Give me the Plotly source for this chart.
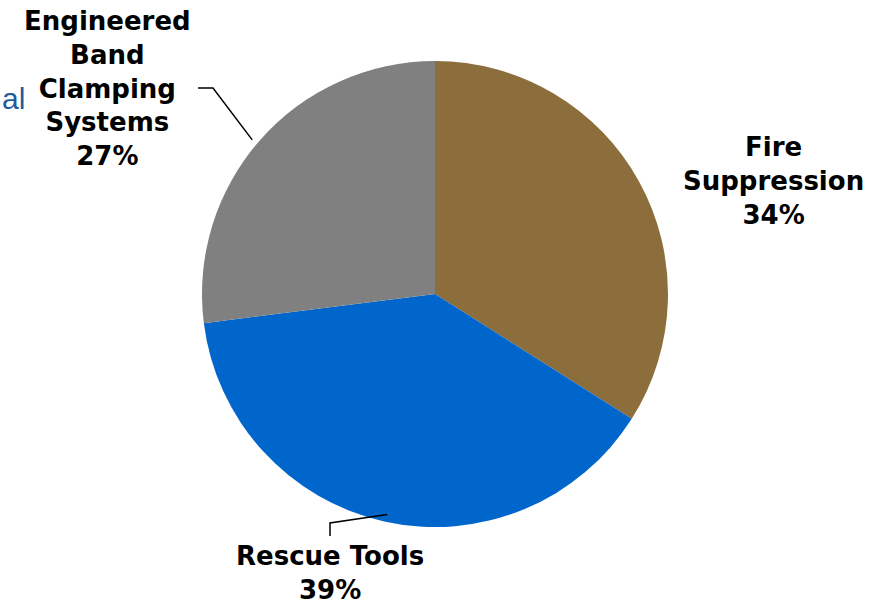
import math
import plotly.graph_objects as go

categories = ["Fire Suppression", "Rescue Tools", "Engineered Band Clamping Systems"]
values = [34, 39, 27]
colors = ["#8C6E3C", "#0066CC", "#808080"]
label_texts = ["Fire<br>Suppression<br>34%", "Rescue Tools<br>39%",
               "Engineered<br>Band<br>Clamping<br>Systems<br>27%"]

W, H = 888, 607
CX, CY, R = 435, 294, 233  # pixels, for layout


def px(x):
    return x / W


def py(y):
    return 1 - y / H


fig = go.Figure()
fig.add_trace(go.Pie(
    labels=categories, values=values, sort=False, direction="clockwise",
    rotation=0, textinfo="none", hoverinfo="label+percent",
    marker=dict(colors=colors, line=dict(width=0)),
    domain=dict(x=[px(CX - R), px(CX + R)], y=[py(CY + R), py(CY - R)]),
    showlegend=False,
))

# edge points at slice mid-angles (computed from data)
total = sum(values)
cum = 0
edge = []
for v in values:
    mid = (cum + v / 2) / total * 2 * math.pi
    cum += v
    edge.append((CX + R * math.sin(mid), CY - R * math.cos(mid)))

label_pos = [(773, 181), (330, 573), (107, 89)]
font = dict(family="DejaVu Sans", size=26, color="black")
for t, (x, y) in zip(label_texts, label_pos):
    fig.add_annotation(x=px(x), y=py(y), xref="paper", yref="paper",
                       text="<b>" + t + "</b>", showarrow=False, font=font,
                       xanchor="center", yanchor="middle", align="center")

# leader lines
ex, ey = edge[2]
fig.add_shape(type="path", xref="paper", yref="paper",
              path=f"M {px(198)} {py(88)} L {px(213)} {py(88)} L {px(ex - 8)} {py(ey)}",
              line=dict(color="black", width=1.5))
ex, ey = edge[1]
fig.add_shape(type="path", xref="paper", yref="paper",
              path=f"M {px(330)} {py(536)} L {px(330)} {py(523)} L {px(ex + 3)} {py(ey - 7)}",
              line=dict(color="black", width=1.5))

# partially visible text at left edge
fig.add_annotation(x=px(0), y=py(98), xref="paper", yref="paper",
                   text="al", showarrow=False, xanchor="left", yanchor="middle",
                   font=dict(family="Liberation Sans Narrow, Liberation Sans", size=30, color="#1F5C99"))

fig.update_layout(width=W, height=H, margin=dict(l=0, r=0, t=0, b=0),
                  paper_bgcolor="white", plot_bgcolor="white")
fig.write_html("out.html")
